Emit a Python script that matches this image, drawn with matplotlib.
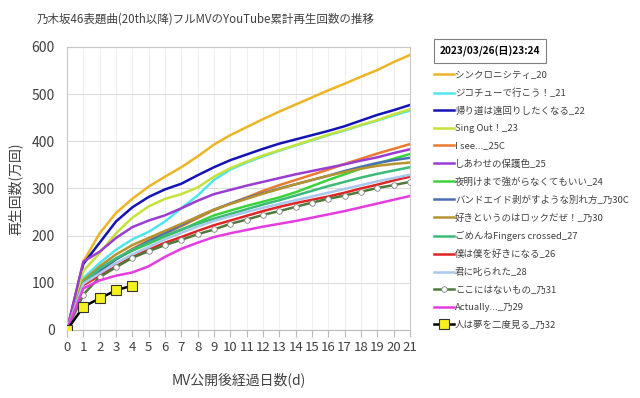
import matplotlib
matplotlib.use("Agg")
import matplotlib.pyplot as plt
from matplotlib.ticker import MultipleLocator

plt.rcParams['font.family'] = ['Noto Sans CJK JP', 'DejaVu Sans']

days = list(range(22))
title = "乃木坂46表題曲(20th以降)フルMVのYouTube累計再生回数の推移"
date_text = "2023/03/26(日)23:24"
xlabel = "MV公開後経過日数(d)"
ylabel = "再生回数(万回)"

s_sync = [0, 145, 205, 248, 278, 304, 325, 345, 368, 393, 413, 430, 447, 463, 478, 493, 508, 522, 537, 551, 568, 583]
s_jiko = [0, 110, 142, 170, 192, 208, 230, 258, 285, 318, 340, 355, 368, 380, 391, 402, 413, 423, 434, 444, 455, 465]
s_kaeri = [0, 140, 185, 230, 260, 282, 298, 310, 328, 345, 360, 372, 384, 395, 404, 413, 422, 432, 444, 456, 466, 477]
s_sing = [0, 125, 163, 205, 238, 262, 278, 288, 302, 325, 343, 357, 370, 381, 392, 403, 414, 424, 435, 445, 457, 468]
s_isee = [0, 100, 122, 150, 172, 190, 205, 220, 237, 254, 268, 281, 295, 307, 318, 329, 340, 352, 363, 374, 384, 394]
s_shiawase = [0, 145, 166, 195, 218, 232, 243, 258, 274, 288, 297, 306, 314, 322, 330, 337, 344, 351, 359, 366, 375, 383]
s_yoake = [0, 100, 125, 150, 168, 183, 198, 212, 228, 243, 253, 263, 272, 281, 292, 305, 318, 330, 342, 353, 363, 373]
s_band = [0, 100, 125, 150, 170, 188, 205, 222, 240, 255, 268, 280, 290, 300, 309, 318, 327, 337, 346, 354, 360, 365]
s_suki = [0, 105, 135, 160, 180, 195, 210, 225, 240, 255, 267, 278, 289, 299, 309, 318, 327, 335, 342, 348, 352, 355]
s_gomen = [0, 100, 130, 152, 170, 185, 200, 213, 225, 236, 246, 256, 266, 275, 285, 295, 305, 314, 323, 331, 338, 345]
s_boku = [0, 95, 115, 135, 155, 170, 185, 197, 210, 222, 232, 242, 252, 261, 269, 276, 283, 291, 300, 308, 317, 325]
s_kimi = [0, 98, 120, 142, 160, 176, 192, 206, 219, 231, 241, 250, 259, 267, 275, 283, 291, 299, 307, 315, 322, 329]
s_koko = [0, 75, 112, 133, 153, 167, 180, 191, 203, 213, 225, 234, 244, 252, 261, 270, 278, 285, 293, 301, 307, 314]
s_actually = [0, 88, 105, 115, 122, 135, 155, 172, 185, 197, 205, 212, 219, 225, 231, 238, 245, 252, 260, 268, 276, 284]
s_hito = [0, 49, 67, 84, 94]

series = [
    ("シンクロニシティ_20", s_sync, '#EDB425'),
    ("ジコチューで行こう！_21", s_jiko, '#4FE6EE'),
    ("帰り道は遠回りしたくなる_22", s_kaeri, '#1414B4'),
    ("Sing Out！_23", s_sing, '#C6E23A'),
    ("I see..._25C", s_isee, '#E87B2E'),
    ("しあわせの保護色_25", s_shiawase, '#9B3CD2'),
    ("夜明けまで強がらなくてもいい_24", s_yoake, '#3AD43A'),
    ("バンドエイド剥がすような別れ方_乃30C", s_band, '#4A70B4'),
    ("好きというのはロックだぜ！_乃30", s_suki, '#B8922E'),
    ("ごめんねFingers crossed_27", s_gomen, '#3CBA78'),
    ("僕は僕を好きになる_26", s_boku, '#E02424'),
    ("君に叱られた_28", s_kimi, '#A8C8EE'),
]

fig = plt.figure(figsize=(6.4, 3.98), dpi=100)
ax = fig.add_axes([0.1047, 0.171, 0.5359, 0.711])

order = [11, 0, 1, 2, 3, 4, 5, 6, 7, 8, 9, 10]
handles = {}
for i in order:
    lab, vals, col = series[i]
    h, = ax.plot(days[:len(vals)], vals, color=col, lw=1.8, label=lab, zorder=2 + i * 0.01)
    handles[i] = h
hs = [handles[i] for i in range(12)]

h_koko, = ax.plot(days, s_koko, color='#4E7A3C', lw=1.8, marker='o', ms=4,
                  mfc='white', mec='#808080', mew=0.6, label="ここにはないもの_乃31", zorder=3)
h_act, = ax.plot(days, s_actually, color='#E43CE0', lw=1.8, label="Actually..._乃29", zorder=3.1)
h_hito, = ax.plot(days[:len(s_hito)], s_hito, color='black', lw=1.8, marker='s', ms=7,
                  mfc='#F5F020', mec='#333333', mew=0.8, label="人は夢を二度見る_乃32", zorder=4)
hs += [h_koko, h_act, h_hito]

ax.set_xlim(0, 21)
ax.set_ylim(0, 600)
ax.xaxis.set_major_locator(MultipleLocator(1))
ax.yaxis.set_major_locator(MultipleLocator(100))
ax.grid(axis='x', color='#EFEFEF', lw=0.8, zorder=0)
ax.grid(axis='y', color='#DCDCDC', lw=0.8, zorder=0)
for sp in ['top', 'right', 'left']:
    ax.spines[sp].set_visible(True)
    ax.spines[sp].set_color('#C8C8C8')
    ax.spines[sp].set_linewidth(0.8)
ax.spines['bottom'].set_color('#BBBBBB')
ax.spines['bottom'].set_linewidth(0.8)
ax.tick_params(axis='x', direction='out', length=5, color='#BBBBBB', labelsize=9.5,
               labelcolor='#404040', pad=3)
ax.tick_params(axis='y', length=0, labelsize=10, labelcolor='#404040', pad=9)
ax.set_axisbelow(True)

ax.set_xlabel(xlabel, fontsize=10, color='#404040', labelpad=13)
ax.set_ylabel(ylabel, fontsize=10, color='#404040', labelpad=6)

fig.text(37 / 640, 1 - 19 / 398, title, fontsize=8.3, color='#404040', va='center', ha='left')

fig.text(490 / 640, 1 - 51 / 398, date_text, fontsize=7.3, color='black', fontweight='bold',
         ha='center', va='center',
         bbox=dict(boxstyle='square,pad=0.6', fc='white', ec='#808080', lw=0.8))

fig.legend(handles=hs, labels=[h.get_label() for h in hs], loc='upper left',
           bbox_to_anchor=(430 / 640, 1 - 67 / 398), frameon=False, fontsize=6.8,
           handlelength=2.1, handletextpad=0.15, labelspacing=0.9, borderaxespad=0,
           labelcolor='#404040')

fig.savefig('out.png', dpi=100, facecolor='white')
